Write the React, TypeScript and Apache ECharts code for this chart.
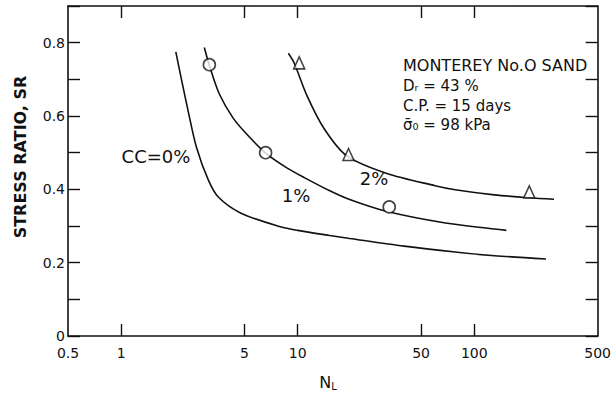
import React, { useEffect, useRef } from "react";
import * as echarts from "echarts";

// Curves: [N_L, stress ratio]
const curveCC0: number[][] = [
  [2.04, 0.775], [2.2, 0.698], [2.41, 0.608], [2.67, 0.515], [3.12, 0.425],
  [3.55, 0.379], [4.77, 0.335], [7.98, 0.298], [10, 0.288], [15.2, 0.274],
  [19.7, 0.266], [40, 0.245], [78, 0.229], [130, 0.219], [255, 0.21],
];
const curveCC1: number[][] = [
  [2.96, 0.787], [3.16, 0.738], [3.6, 0.66], [4.3, 0.595], [5.2, 0.548], [6.58, 0.499],
  [8.73, 0.458], [10.9, 0.432], [15.2, 0.396], [19.7, 0.372], [31.7, 0.34],
  [68.7, 0.308], [130, 0.292], [152, 0.288],
];
const curveCC2: number[][] = [
  [8.85, 0.771], [9.56, 0.744], [11.3, 0.655], [14.1, 0.566], [18.9, 0.492],
  [31.7, 0.444], [60, 0.41], [78, 0.399], [130, 0.385], [205, 0.377], [283, 0.373],
];
const circlePoints: number[][] = [[3.16, 0.74], [6.58, 0.5], [33, 0.352]];
const trianglePoints: number[][] = [[10.2, 0.745], [19.4, 0.495], [205, 0.393]];

const xLabelValues = [0.5, 1, 5, 10, 50, 100, 500];
const xTickValues = [1, 5, 10, 50, 100];
const yLabelValues = [0, 0.2, 0.4, 0.6, 0.8];

const INK = "#111";
const FONT = "DejaVu Sans";

export default function App() {
  const ref = useRef<HTMLDivElement>(null);
  useEffect(() => {
    document.body.style.margin = "0";
    const chart = echarts.init(ref.current!, undefined, { renderer: "svg" });
    const lineSeries = (data: number[][]) => ({
      type: "line",
      data,
      smooth: 0.3,
      symbol: "none",
      lineStyle: { color: INK, width: 1.6 },
      silent: true,
      z: 2,
    });
    const xAxisBase = (position: string, showLabel: boolean) => ({
      type: "log",
      logBase: 10,
      min: 0.5,
      max: 500,
      position,
      axisLine: { show: true, onZero: false, lineStyle: { color: INK, width: 1.6 } },
      axisTick: {
        show: true,
        inside: true,
        length: 12,
        customValues: xTickValues,
        lineStyle: { color: INK, width: 1.4 },
      },
      minorTick: { show: false },
      splitLine: { show: false },
      axisLabel: showLabel
        ? {
            customValues: xLabelValues,
            margin: 10,
            color: INK,
            fontSize: 14,
            fontFamily: FONT,
            formatter: (v: number) => String(Math.round(v * 10) / 10),
          }
        : { show: false },
    });
    const yAxisBase = (position: string, showLabel: boolean) => ({
      type: "value",
      min: 0,
      max: 0.9,
      interval: 0.1,
      position,
      axisLine: { show: true, onZero: false, lineStyle: { color: INK, width: 1.6 } },
      axisTick: { show: true, inside: true, length: 12, lineStyle: { color: INK, width: 1.4 } },
      splitLine: { show: false },
      axisLabel: showLabel
        ? {
            customValues: yLabelValues,
            margin: 3,
            color: INK,
            fontSize: 14,
            fontFamily: FONT,
            formatter: (v: number) => (v === 0 ? "0" : v.toFixed(1)),
          }
        : { show: false },
    });
    const txt = (x: number, y: number, text: string, size: number, align = "center") => ({
      type: "text",
      x,
      y,
      style: { text, fill: INK, font: `${size}px "${FONT}"`, align, verticalAlign: "middle" },
    });
    chart.setOption({
      animation: false,
      backgroundColor: "#fff",
      grid: { left: 68, right: 10, top: 6, bottom: 62 },
      xAxis: [xAxisBase("bottom", true), xAxisBase("top", false)],
      yAxis: [yAxisBase("left", true), yAxisBase("right", false)],
      series: [
        lineSeries(curveCC0),
        lineSeries(curveCC1),
        lineSeries(curveCC2),
        {
          type: "scatter",
          data: circlePoints,
          symbol: "circle",
          symbolSize: 12,
          itemStyle: { color: "#fff", borderColor: INK, borderWidth: 1.6 },
          z: 3,
        },
        {
          type: "scatter",
          data: trianglePoints,
          symbol: "triangle",
          symbolSize: [11, 12],
          itemStyle: { color: "#fff", borderColor: INK, borderWidth: 1.6 },
          z: 3,
        },
      ],
      graphic: [
        {
          type: "text",
          x: 20,
          y: 157,
          rotation: Math.PI / 2,
          style: {
            text: "STRESS RATIO, SR",
            fill: INK,
            font: `bold 16px "${FONT}"`,
            align: "center",
            verticalAlign: "middle",
          },
        },
        {
          type: "text",
          x: 328,
          y: 382,
          style: {
            text: "{n|N}{s|L}",
            align: "center",
            verticalAlign: "middle",
            rich: {
              n: { fontSize: 16, fontFamily: FONT, fill: INK },
              s: { fontSize: 10, fontFamily: FONT, fill: INK, padding: [8, 0, 0, 0] },
            },
          },
        },
        txt(156, 156, "CC=0%", 18),
        txt(296, 195, "1%", 18),
        txt(374, 178, "2%", 18),
        txt(403, 65, "MONTEREY No.O SAND", 16, "left"),
        txt(403, 86, "Dᵣ = 43 %", 15, "left"),
        txt(403, 106, "C.P. = 15 days", 15, "left"),
        txt(403, 125, "σ̄₀ = 98 kPa", 15, "left"),
      ],
    });
    return () => chart.dispose();
  }, []);
  return (
    <div
      ref={ref}
      style={{ position: "fixed", left: 0, top: 0, width: 614, height: 398, background: "#fff" }}
    />
  );
}
